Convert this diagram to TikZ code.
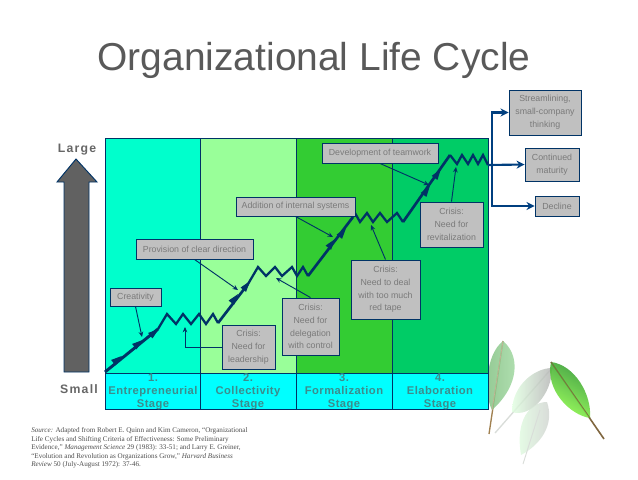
\documentclass[tikz,border=0pt]{standalone}
\usepackage{fontspec}
\setmainfont{Liberation Sans}
\newfontfamily\citefont[Ligatures=TeX]{Liberation Serif}
\usepackage{xcolor}
\usetikzlibrary{arrows.meta}

\definecolor{navyline}{HTML}{003366}
\definecolor{outcomeline}{HTML}{003F7F}
\definecolor{boxgray}{HTML}{C0C0C0}
\definecolor{boxtext}{HTML}{7A7A7A}
\definecolor{sizetext}{HTML}{666666}
\definecolor{stagetext}{HTML}{3C8C8C}
\definecolor{stageone}{HTML}{00FFCC}
\definecolor{stagetwo}{HTML}{99FF99}
\definecolor{stagethree}{HTML}{33CC33}
\definecolor{stagefour}{HTML}{00CC66}
\definecolor{stagerow}{HTML}{00FFFF}
\definecolor{stemcolor}{HTML}{A08050}

\tikzset{
    lifebox/.style={draw=navyline, fill=boxgray, text=boxtext, line width=0.7pt, inner sep=0pt,
        align=center, font=\fontsize{6.6}{9.6}\selectfont},
    stagelabel/.style={text=stagetext, align=center, font=\fontsize{8.4}{9.6}\selectfont\bfseries\addfontfeature{LetterSpace=4}},
    sizelabel/.style={text=sizetext, font=\fontsize{9.2}{10}\selectfont\bfseries\addfontfeature{LetterSpace=10}},
    pointer/.style={navyline, line width=0.7pt, -{Stealth[length=4pt,width=3.5pt]}},
    outcome/.style={outcomeline, line width=1.6pt, -{Stealth[length=6pt,width=6pt]}},
}

\begin{document}
\begin{tikzpicture}[x=0.75pt, y=-0.75pt, >=Stealth]
    \useasboundingbox (0,0) rectangle (638,479);

    % Title
    \node[text=black!65, font=\fontsize{29.2}{32}\selectfont] (title) at (314,60) {Organizational Life Cycle};

    % Leaves
    \draw[stemcolor, line width=1pt] (489,434) -- (503,341);
    \path[left color=green!50!black!50!white, right color=green!60!black!35!white, opacity=0.85]
        (503,341) .. controls (520,355) and (520,385) .. (492,410)
        .. controls (484,395) and (485,355) .. (503,341);
    \draw[stemcolor!60, line width=0.5pt] (492,410) -- (503,341);
    \draw[green!10!black!15, line width=1pt] (495,433) -- (552,368);
    \path[left color=green!12!white, right color=black!30, opacity=0.8]
        (552,368) .. controls (535,368) and (512,385) .. (512,412)
        .. controls (530,418) and (552,395) .. (552,368);
    \path[left color=green!12!white, right color=black!20, opacity=0.8]
        (547,402) .. controls (530,402) and (515,420) .. (521,455)
        .. controls (540,445) and (555,425) .. (547,402);
    \draw[green!10!black!15, line width=0.7pt] (523,464) -- (540,410);
    \draw[stemcolor!80!black, line width=1.2pt] (604,439) -- (551,362);
    \path[top color=green!50!black!80, bottom color=green!60!yellow!70, shading angle=-30, opacity=0.9]
        (551,362) .. controls (575,365) and (592,395) .. (590,418)
        .. controls (570,415) and (545,390) .. (551,362);
    \draw[stemcolor!80!black, line width=0.5pt] (590,418) -- (551,362);

    % Stage panels
    \fill[stageone] (105,138) rectangle (200,373);
    \fill[stagetwo] (200,138) rectangle (296,373);
    \fill[stagethree] (296,138) rectangle (392,373);
    \fill[stagefour] (392,138) rectangle (488,373);
    \fill[stagerow] (105,373) rectangle (488,409);
    \draw[navyline, line width=0.7pt] (105,138) rectangle (488,409);
    \draw[navyline, line width=0.7pt] (105,373) -- (488,373);
    \foreach \x in {200,296,392} {
        \draw[navyline, line width=0.7pt] (\x,138) -- (\x,409);
    }

    % Stage names
    \node[stagelabel] (stage1) at (153,392) {1.\\Entrepreneurial\\Stage};
    \node[stagelabel] (stage2) at (248,392) {2.\\Collectivity\\Stage};
    \node[stagelabel] (stage3) at (344,392) {3.\\Formalization\\Stage};
    \node[stagelabel] (stage4) at (440,392) {4.\\Elaboration\\Stage};

    % Size arrow
    \draw[navyline, line width=0.7pt, fill=black!62] (64,372) -- (64,182) -- (57,182) -- (76,159)
        -- (97,182) -- (89,182) -- (89,372) -- cycle;
    \node[sizelabel] (large) at (77,149.5) {Large};
    \node[sizelabel] (small) at (79,389.5) {Small};

    % Growth line: four runs, each followed by a zigzag
    \draw[navyline, line width=2.2pt] (105,372) -- (158,329);
    \draw[navyline, line width=2pt] (248,284) -- (218,323);
    \draw[navyline, line width=2pt] (308,276) -- (353,217);
    \draw[navyline, line width=2pt] (403,222) -- (450,155);
    \draw[navyline, line width=1.7pt]
        (158,329) -- (167,314) -- (176,324) -- (183,314) -- (191,324) -- (199,314) -- (206,324) -- (213,314) -- (218,323);
    \draw[navyline, line width=1.7pt]
        (248,284) -- (258,267) -- (266,276) -- (275,267) -- (282,276) -- (292,267) -- (297,276) -- (303,267) -- (308,276);
    \draw[navyline, line width=1.7pt]
        (353,217) -- (355,213) -- (360,222) -- (367,213) -- (373,222) -- (380,213) -- (387,222) -- (397,213) -- (403,222);
    \draw[navyline, line width=1.7pt]
        (450,155) -- (457,164) -- (462,155) -- (468,164) -- (473,155) -- (478,164) -- (483,155) -- (488,165);
    \foreach \x/\y/\a in {118/359/38,139/343/38,155/332/38,235/298/52,247/285/52,332/243/52,343/232/52,427/190/55,438/173/55} {
        \fill[navyline, rotate around={\a:(\x,\y)}] (\x+5,\y) -- (\x-6,\y-3.5) -- (\x-6,\y+3.5) -- cycle;
    }

    % Boxes
    \node[lifebox, minimum width=38.25pt, minimum height=13.5pt] (creativity) at (135.5,297) {Creativity};
    \node[lifebox, minimum width=87.75pt, minimum height=15pt] (provision) at (194.5,249) {Provision of clear direction};
    \node[lifebox, minimum width=89.25pt, minimum height=14.25pt] (addition) at (295.5,206.5) {Addition of internal systems};
    \node[lifebox, minimum width=87pt, minimum height=15pt] (teamwork) at (380,153) {Development of teamwork};
    \node[lifebox, minimum width=39.75pt, minimum height=33pt] (leadership) at (248.5,347) {Crisis:\\Need for\\leadership};
    \node[lifebox, minimum width=42.75pt, minimum height=42.75pt] (delegation) at (310.5,326.5) {Crisis:\\Need for\\delegation\\with control};
    \node[lifebox, minimum width=51.75pt, minimum height=44.25pt] (redtape) at (385.5,289.5) {Crisis:\\Need to deal\\with too much\\red tape};
    \node[lifebox, minimum width=47.25pt, minimum height=33.75pt] (revital) at (451.5,224.5) {Crisis:\\Need for\\revitalization};
    \node[lifebox, minimum width=54pt, minimum height=33.75pt] (stream) at (545,112.5) {Streamlining,\\small-company\\thinking};
    \node[lifebox, minimum width=40.5pt, minimum height=24.75pt] (mature) at (552,164.5) {Continued\\maturity};
    \node[lifebox, minimum width=33pt, minimum height=15pt] (decline) at (557,206) {Decline};

    % Pointers onto the line
    \coordinate (creativitytip) at (142,337);
    \coordinate (provisiontip) at (238,290);
    \coordinate (additiontip) at (333,237);
    \coordinate (teamworktip) at (429,185);
    \coordinate (leadershiptip) at (185,327);
    \coordinate (delegationtip) at (276,278);
    \coordinate (redtapetip) at (371,225);
    \coordinate (revitaltip) at (456,167);
    \draw[pointer] (creativity.south) -- (creativitytip);
    \draw[pointer] (provision.south) -- (provisiontip);
    \draw[pointer] (addition.south) -- (additiontip);
    \draw[pointer] (teamwork.south) -- (teamworktip);
    \draw[pointer] (leadership.west) -| (leadershiptip);
    \draw[pointer] (delegation.north) -- (delegationtip);
    \draw[pointer] (redtape.north) -- (redtapetip);
    \draw[pointer] (revital.north) -- (revitaltip);

    % Outcomes
    \coordinate (lineend) at (488,165);
    \coordinate (fork) at (492,165);
    \draw[outcome] (fork) |- (stream.west);
    \draw[outcome] (lineend) -- (mature.west);
    \draw[outcome] (fork) |- (decline.west);

    % Source note
    \node[right, inner sep=0pt, text=black!70, align=left, font=\citefont\fontsize{5.35}{6.4}\selectfont] (source) at (31,448)
        {\textit{Source:} Adapted from Robert E. Quinn and Kim Cameron, “Organizational\\
        Life Cycles and Shifting Criteria of Effectiveness: Some Preliminary\\
        Evidence,” \textit{Management Science} 29 (1983): 33-51; and Larry E. Greiner,\\
        “Evolution and Revolution as Organizations Grow,” \textit{Harvard Business}\\
        \textit{Review} 50 (July-August 1972): 37-46.};
\end{tikzpicture}
\end{document}
